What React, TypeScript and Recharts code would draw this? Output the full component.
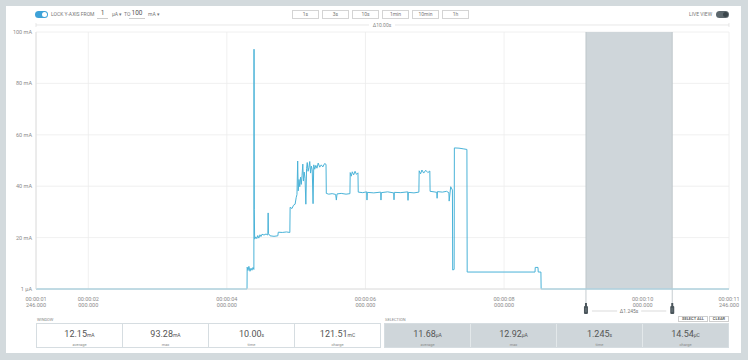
import React from 'react';
import { LineChart, Line, XAxis, YAxis, CartesianGrid, ReferenceArea, ReferenceLine } from 'recharts';

// current trace, time in seconds, current in mA
const times = [
  1.246, 4.291, 4.293, 4.305, 4.318, 4.334, 4.349, 4.363, 4.378, 4.39, 4.392, 4.396, 4.401, 4.418, 4.432,
  4.446, 4.461, 4.478, 4.492, 4.507, 4.536, 4.565, 4.592, 4.596, 4.6, 4.623, 4.68, 4.736, 4.742, 4.8,
  4.86, 4.909, 4.913, 4.94, 4.962, 4.985, 5.0, 5.012, 5.022, 5.03, 5.041, 5.052, 5.063, 5.074, 5.085,
  5.096, 5.105, 5.116, 5.128, 5.14, 5.15, 5.16, 5.172, 5.184, 5.196, 5.208, 5.22, 5.232, 5.244, 5.254,
  5.268, 5.284, 5.3, 5.318, 5.34, 5.362, 5.385, 5.41, 5.431, 5.435, 5.47, 5.52, 5.57, 5.58, 5.59,
  5.65, 5.72, 5.776, 5.78, 5.795, 5.81, 5.83, 5.85, 5.87, 5.892, 5.896, 5.96, 6.018, 6.022, 6.027,
  6.12, 6.22, 6.224, 6.229, 6.32, 6.408, 6.412, 6.417, 6.51, 6.61, 6.614, 6.619, 6.7, 6.771, 6.775,
  6.795, 6.815, 6.84, 6.87, 6.9, 6.929, 6.933, 6.99, 7.03, 7.034, 7.039, 7.11, 7.17, 7.204, 7.208,
  7.23, 7.255, 7.259, 7.28, 7.283, 7.35, 7.42, 7.464, 7.468, 8.0, 8.447, 8.45, 8.49, 8.493, 8.532,
  8.535, 11.246,
];
const currents = [
  0, 0, 8.5, 7.2, 8.8, 6.9, 8.1, 7.3, 8.4, 7.6, 93.3, 31.0, 19.4, 20.3, 19.6,
  20.8, 19.8, 21.1, 20.4, 21.3, 21.0, 21.4, 21.0, 29.6, 21.6, 20.7, 20.5, 20.7, 22.1, 22.0,
  22.2, 22.0, 31.8, 31.3, 32.6, 33.0, 35.5, 36.8, 49.8, 38.2, 42.6, 39.8, 43.5, 40.7, 44.2,
  48.6, 42.0, 45.5, 43.1, 33.0, 46.8, 49.2, 45.8, 47.3, 49.6, 45.1, 47.8, 46.4, 33.2, 48.3,
  46.6, 48.1, 47.0, 49.0, 47.4, 48.3, 47.5, 48.8, 48.5, 37.2, 36.9, 37.1, 36.8, 34.6, 37.0,
  37.2, 36.9, 37.1, 45.3, 43.9, 45.6, 44.4, 45.8, 44.6, 45.2, 37.7, 37.5, 37.8, 34.6, 37.6,
  37.4, 37.7, 34.6, 37.5, 37.8, 37.4, 34.7, 37.6, 37.5, 37.8, 34.5, 37.6, 37.4, 37.7, 46.0,
  44.8, 46.3, 45.1, 46.2, 45.3, 45.9, 38.0, 37.8, 37.6, 35.3, 37.9, 37.7, 38.0, 37.5, 34.2,
  39.8, 38.5, 7.4, 7.6, 54.9, 54.8, 54.5, 54.3, 6.6, 6.6, 6.6, 8.4, 8.4, 6.6, 6.6,
  0, 0,
];

const yTicks = [0, 20, 40, 60, 80, 100];
const yTickLabels = ['1 µA', '20 mA', '40 mA', '60 mA', '80 mA', '100 mA'];
const xTicks = [1.246, 2, 4, 6, 8, 10, 11.246];
const xTickTime = ['00:00:01', '00:00:02', '00:00:04', '00:00:06', '00:00:08', '00:00:10', '00:00:11'];
const xTickFrac = ['246.000', '000.000', '000.000', '000.000', '000.000', '000.000', '246.000'];
const selection = [9.182, 10.427];

const timeButtons = ['1s', '3s', '10s', '1min', '10min', '1h'];
const statLabels = ['average', 'max', 'time', 'charge'];
const windowValues = ['12.15', '93.28', '10.00', '121.51'];
const windowUnits = ['mA', 'mA', 's', 'mC'];
const selectionValues = ['11.68', '12.92', '1.245', '14.54'];
const selectionUnits = ['µA', 'µA', 's', 'µC'];

const data = times.map((t, i) => ({ t, current: currents[i] }));

const FONT = 'Roboto, "Noto Sans", sans-serif';
const TRACE = '#4ab3d8';

const YTick = (props: any) => {
  const { x, y, payload } = props;
  const idx = yTicks.indexOf(payload.value);
  return (
    <text x={x} y={y} dy="0.35em" textAnchor="end" fontSize={5.5} fill="#8a8a8a" fontFamily={FONT}>
      {yTickLabels[idx]}
    </text>
  );
};

const XTick = (props: any) => {
  const { x, y, payload } = props;
  const idx = xTicks.indexOf(payload.value);
  return (
    <g>
      <text x={x} y={y + 4} textAnchor="middle" fontSize={5.5} fill="#8a8a8a" fontFamily={FONT}>
        {xTickTime[idx]}
      </text>
      <text x={x} y={y + 10} textAnchor="middle" fontSize={5.5} fill="#8a8a8a" fontFamily={FONT}>
        {xTickFrac[idx]}
      </text>
    </g>
  );
};

const Handle = (props: any) => {
  const { x, y, height } = props.viewBox || {};
  const b = y + height;
  return (
    <g>
      <line x1={x} y1={b} x2={x} y2={b + 14} stroke="#b7c0c5" strokeWidth={0.8} />
      <rect x={x - 1} y={b + 14} width={2} height={4} fill="#4a555b" />
      <rect x={x - 2} y={b + 17} width={4} height={8} rx={1} fill="#4a555b" />
      <line x1={x - 1} y1={b + 20} x2={x + 1} y2={b + 20} stroke="#9aa4a9" strokeWidth={0.5} />
      <line x1={x - 1} y1={b + 22} x2={x + 1} y2={b + 22} stroke="#9aa4a9" strokeWidth={0.5} />
    </g>
  );
};

const DeltaLabel = (props: any) => {
  const { x, y, width, height } = props.viewBox || {};
  const cx = x + width / 2;
  const ly = y + height + 22;
  return (
    <g>
      <line x1={x + 6} y1={ly} x2={cx - 12} y2={ly} stroke="#c4c4c4" strokeWidth={0.6} />
      <line x1={cx + 12} y1={ly} x2={x + width - 6} y2={ly} stroke="#c4c4c4" strokeWidth={0.6} />
      <text x={cx} y={ly} dy="0.35em" textAnchor="middle" fontSize={5} fill="#777" fontFamily={FONT}>
        Δ{(selection[1] - selection[0]).toFixed(3)}s
      </text>
    </g>
  );
};

const Toggle = ({ x, color, knob }: { x: number; color: string; knob: string }) => (
  <div style={{ position: 'absolute', left: x, top: 11, width: 13, height: 7, borderRadius: 4, background: color }}>
    <div
      style={{
        position: 'absolute',
        top: 1,
        left: 7,
        width: 5,
        height: 5,
        borderRadius: 3,
        background: knob,
      }}
    />
  </div>
);

const StatRow = ({ left, values, units, grey }: { left: number; values: string[]; units: string[]; grey: boolean }) => (
  <div
    style={{
      position: 'absolute',
      left,
      top: 323,
      width: 345,
      height: 25,
      display: 'flex',
      border: '1px solid #d6dde1',
      boxSizing: 'border-box',
      background: grey ? '#cfd6da' : '#fff',
    }}
  >
    {values.map((v, i) => (
      <div
        key={i}
        style={{
          flex: 1,
          borderLeft: i ? `1px solid ${grey ? '#e3e8ea' : '#d6dde1'}` : 'none',
          textAlign: 'center',
          color: '#555',
        }}
      >
        <div style={{ fontSize: 9, lineHeight: '9px', marginTop: 6 }}>
          {v}
          <span style={{ fontSize: 5 }}>{units[i]}</span>
        </div>
        <div style={{ fontSize: 4, lineHeight: '5px', marginTop: 2, color: '#888' }}>{statLabels[i]}</div>
      </div>
    ))}
  </div>
);

export default function App() {
  return (
    <div
      style={{
        position: 'absolute',
        left: 0,
        top: 0,
        width: 748,
        height: 360,
        background: '#d3dadd',
        fontFamily: FONT,
        overflow: 'hidden',
      }}
    >
      <div style={{ position: 'absolute', left: 6, top: 6, width: 735, height: 347, background: '#fff' }} />

      {/* toolbar */}
      <Toggle x={35} color="#3ea2d8" knob="#fff" />
      <div style={{ position: 'absolute', left: 51, top: 11, fontSize: 5, lineHeight: '7px', color: '#777', whiteSpace: 'nowrap' }}>
        LOCK Y-AXIS FROM
      </div>
      <div style={{ position: 'absolute', left: 97, top: 9, width: 11, fontSize: 6.5, lineHeight: '9px', color: '#555', borderBottom: '1px solid #ccc', textAlign: 'center' }}>1</div>
      <div style={{ position: 'absolute', left: 112, top: 11, fontSize: 5, lineHeight: '7px', color: '#777', whiteSpace: 'nowrap' }}>µA ▾</div>
      <div style={{ position: 'absolute', left: 124, top: 11, fontSize: 5, lineHeight: '7px', color: '#777' }}>TO</div>
      <div style={{ position: 'absolute', left: 129, top: 9, width: 16, fontSize: 6.5, lineHeight: '9px', color: '#555', borderBottom: '1px solid #ccc', textAlign: 'center' }}>100</div>
      <div style={{ position: 'absolute', left: 148, top: 11, fontSize: 5, lineHeight: '7px', color: '#777', whiteSpace: 'nowrap' }}>mA ▾</div>

      {timeButtons.map((b, i) => (
        <div
          key={b}
          style={{
            position: 'absolute',
            left: 292 + i * 30,
            top: 10,
            width: 27,
            height: 9,
            border: '1px solid #d4d4d4',
            boxSizing: 'border-box',
            fontSize: 5,
            lineHeight: '7px',
            textAlign: 'center',
            color: '#777',
          }}
        >
          {b}
        </div>
      ))}

      <div style={{ position: 'absolute', left: 689, top: 11, fontSize: 5, lineHeight: '7px', color: '#777', whiteSpace: 'nowrap' }}>LIVE VIEW</div>
      <Toggle x={716} color="#5c676d" knob="#39444a" />

      {/* window span marker */}
      <svg style={{ position: 'absolute', left: 0, top: 0 }} width={748} height={40}>
        <line x1={36} y1={25} x2={369} y2={25} stroke="#d8d8d8" strokeWidth={0.6} />
        <line x1={395} y1={25} x2={729} y2={25} stroke="#d8d8d8" strokeWidth={0.6} />
        <line x1={36} y1={23} x2={36} y2={27} stroke="#d8d8d8" strokeWidth={0.6} />
        <line x1={729} y1={23} x2={729} y2={27} stroke="#d8d8d8" strokeWidth={0.6} />
        <text x={382} y={25} dy="0.35em" textAnchor="middle" fontSize={5} fill="#888" fontFamily={FONT}>
          Δ10.00s
        </text>
      </svg>

      <div style={{ position: 'absolute', left: 0, top: 0 }}>
        <LineChart width={748} height={320} data={data} margin={{ top: 32, right: 19, bottom: 6, left: 8 }}>
          <CartesianGrid stroke="#ececec" strokeWidth={0.8} />
          <ReferenceArea
            x1={selection[0]}
            x2={selection[1]}
            fill="#cfd6da"
            fillOpacity={1}
            stroke="none"
            ifOverflow="visible"
            label={<DeltaLabel />}
          />
          <ReferenceLine x={selection[0]} stroke="#b7c0c5" strokeWidth={0.8} ifOverflow="visible" label={<Handle />} />
          <ReferenceLine x={selection[1]} stroke="#b7c0c5" strokeWidth={0.8} ifOverflow="visible" label={<Handle />} />
          <XAxis
            dataKey="t"
            type="number"
            domain={[xTicks[0], xTicks[xTicks.length - 1]]}
            ticks={xTicks}
            interval={0}
            allowDataOverflow
            tickLine={false}
            axisLine={{ stroke: '#e0e0e0' }}
            height={25}
            tick={<XTick />}
          />
          <YAxis
            domain={[0, 100]}
            ticks={yTicks}
            interval={0}
            width={28}
            tickLine={false}
            tickSize={0}
            tickMargin={4}
            axisLine={{ stroke: '#e0e0e0' }}
            tick={<YTick />}
          />
          <Line
            type="linear"
            dataKey="current"
            stroke={TRACE}
            strokeWidth={1}
            dot={false}
            isAnimationActive={false}
          />
        </LineChart>
      </div>

      {/* stats */}
      <div style={{ position: 'absolute', left: 37, top: 317, fontSize: 4, lineHeight: '5px', color: '#888' }}>WINDOW</div>
      <div style={{ position: 'absolute', left: 385, top: 317, fontSize: 4, lineHeight: '5px', color: '#888' }}>SELECTION</div>
      <div
        style={{
          position: 'absolute',
          left: 678,
          top: 316,
          width: 30,
          height: 6,
          border: '1px solid #cfcfcf',
          boxSizing: 'border-box',
          fontSize: 4,
          lineHeight: '4px',
          textAlign: 'center',
          color: '#666',
          fontWeight: 700,
        }}
      >
        SELECT ALL
      </div>
      <div
        style={{
          position: 'absolute',
          left: 709,
          top: 316,
          width: 20,
          height: 6,
          border: '1px solid #cfcfcf',
          boxSizing: 'border-box',
          fontSize: 4,
          lineHeight: '4px',
          textAlign: 'center',
          color: '#666',
          fontWeight: 700,
        }}
      >
        CLEAR
      </div>
      <StatRow left={36} values={windowValues} units={windowUnits} grey={false} />
      <StatRow left={384} values={selectionValues} units={selectionUnits} grey={true} />
    </div>
  );
}
